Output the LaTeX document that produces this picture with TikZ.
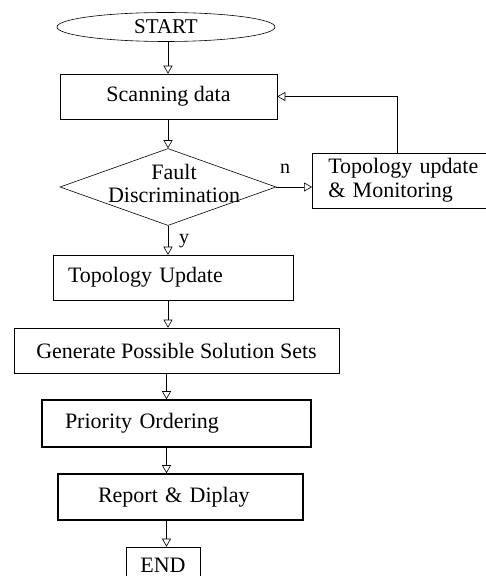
\documentclass[tikz,border=0pt]{standalone}
\usepackage{fontspec}
\setmainfont{Liberation Serif}
\usetikzlibrary{shapes.geometric,arrows.meta}
\begin{document}
\begin{tikzpicture}[x=1bp,y=-1bp,
  every node/.style={font=\fontsize{22bp}{24bp}\selectfont},
  box/.style={draw,line width=0.6bp,inner sep=0pt,minimum height=45bp},
  boldbox/.style={box,line width=1.6bp},
  arr/.style={line width=0.6bp,-{Triangle[open,length=8bp,width=9bp]}},
  lab/.style={font=\fontsize{20bp}{22bp}\selectfont,inner sep=0pt}]
\useasboundingbox (0,0) rectangle (486,576);
\coordinate (sp) at (168,0);
\coordinate (sq) at (166.5,0);
\node[ellipse,draw,line width=0.6bp,minimum width=218bp,minimum height=29bp,inner sep=0pt,font=\fontsize{21bp}{22bp}\selectfont] (start) at (166,27) {START};
\node[box,minimum width=217bp,minimum height=45bp] (scan) at (168.5,96.5) {Scanning data};
\node[diamond,draw,line width=0.6bp,minimum width=216bp,minimum height=77bp,inner sep=0pt] (dec) at (168,187) {};
\node[inner sep=0pt,align=center,font=\fontsize{22bp}{23bp}\selectfont] (dtext) at (174,183) {Fault\\Discrimination};
\node[box,minimum width=180bp,minimum height=55bp,text width=148bp,inner xsep=16bp,align=left,anchor=west] (mon) at (312,180.5) {\mbox{Topology update}\\\& Monitoring};
\node[box,minimum width=240bp,text width=210bp,inner xsep=15bp,align=left] (topo) at (173,277.5) {Topology Update};
\node[box,minimum width=325bp] (gen) at (176.5,350.5) {Generate Possible Solution Sets};
\node[boldbox,minimum width=269bp,minimum height=47bp,text width=223bp,inner xsep=23bp,align=left] (prio) at (176.5,423.5) {Priority Ordering};
\node[boldbox,minimum width=245bp,minimum height=46bp,text width=165bp,inner xsep=40bp,align=left] (rep) at (180.5,497) {Report \& Diplay};
\node[box,minimum width=74bp,minimum height=36bp] (end) at (163,565) {END};
\draw[arr] (start.south -| sp) -- (scan.north -| sp);
\draw[arr] (scan.south -| sp) -- (dec.north);
\draw[arr] (dec.south) -- (topo.north -| sp);
\draw[arr] (topo.south -| sp) -- (gen.north -| sp);
\draw[arr] (gen.south -| sq) -- (prio.north -| sq);
\draw[arr] (prio.south -| sq) -- (rep.north -| sq);
\draw[arr] (rep.south -| sq) -- (end.north -| sq);
\draw[arr] (dec.east) -- (mon.west |- dec.east);
\draw[arr] ([xshift=-5bp]mon.north) |- (scan.east);
\node[lab] (nlab) at (285,169) {n};
\node[lab] (ylab) at (184,241) {y};
\end{tikzpicture}
\end{document}
